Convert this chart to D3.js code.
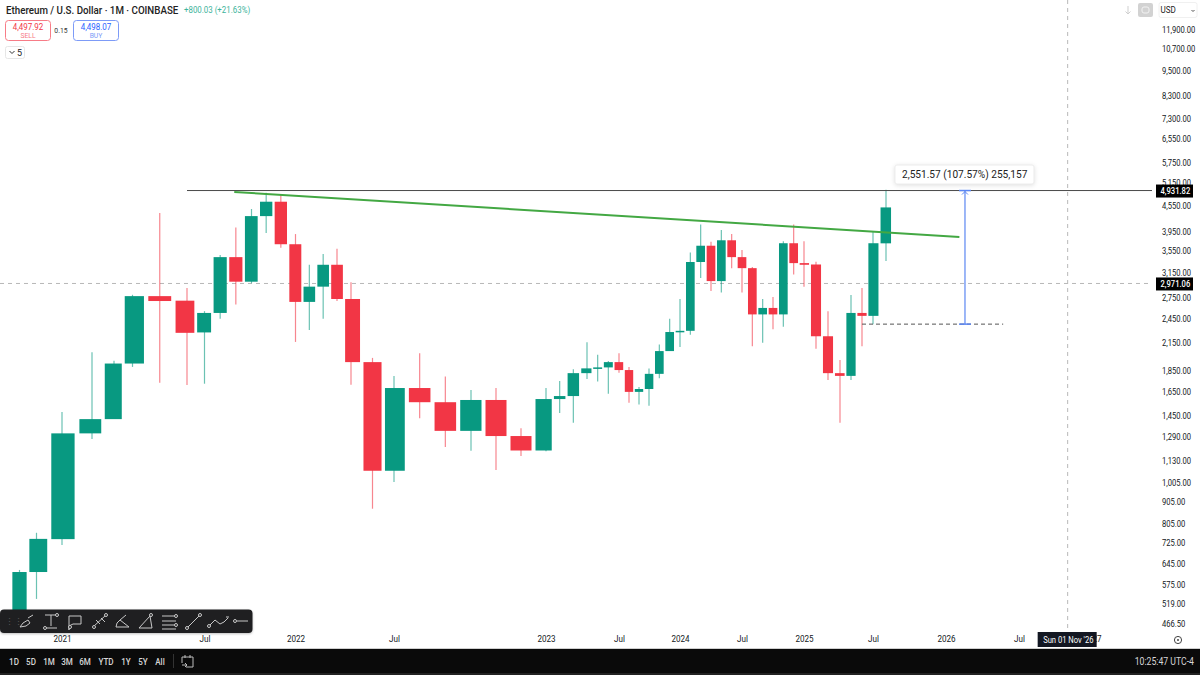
<!DOCTYPE html>
<html>
<head>
<meta charset="utf-8">
<script src="https://cdn.jsdelivr.net/npm/d3@7"></script>
<style>
  html, body { margin: 0; background: #fff; }
  svg { display: block; }
  text { font-family: Roboto, sans-serif; }
</style>
</head>
<body>
<svg id="chart" width="1200" height="675"></svg>
<script>
// months counted from Jan 2020 = 0, first candle is Nov 2020
const firstMonth = 10;
const opens = [386, 616, 737, 1312, 1418, 1920, 2773, 2705, 2275, 2530, 3430, 3000, 4290, 4640, 3680, 2687, 2920, 3290, 2730, 1935, 1070, 1680, 1555, 1330, 1574, 1293, 1195, 1582, 1608, 1822, 1870, 1880, 1935, 1853, 1645, 1671, 1815, 2055, 2282, 2295, 3340, 3650, 3010, 3760, 3430, 3230, 2510, 2600, 2510, 3700, 3320, 3295, 2228, 1822, 1795, 2530, 2490, 3698];
const highs = [623, 763, 1475, 2042, 1949, 2793, 4362, 2900, 2555, 3470, 4030, 4460, 4870, 4820, 3890, 3290, 3490, 3590, 2990, 1980, 1795, 2030, 1790, 1662, 1680, 1350, 1680, 1745, 1860, 2155, 2015, 1947, 2030, 1885, 1690, 1870, 2130, 2450, 2730, 3520, 4100, 3730, 3975, 3890, 3565, 3250, 2730, 2760, 3740, 4100, 3740, 3345, 2555, 1957, 2790, 2900, 3935, 4956];
const lows = [374, 532, 714, 1272, 1418, 1885, 1728, 1708, 1720, 2450, 2650, 2975, 3910, 3610, 2160, 2305, 2450, 2700, 1710, 870, 1007, 1425, 1218, 1193, 1075, 1160, 1190, 1466, 1390, 1765, 1740, 1628, 1825, 1550, 1535, 1525, 1772, 2055, 2100, 2245, 3060, 2850, 2830, 3230, 2830, 2110, 2150, 2315, 2345, 3120, 2920, 2080, 1755, 1390, 1755, 2110, 2380, 3360];
const closes = [616, 738, 1312, 1418, 1920, 2773, 2700, 2270, 2530, 3430, 3000, 4290, 4640, 3680, 2687, 2920, 3290, 2730, 1935, 1070, 1680, 1555, 1330, 1574, 1293, 1195, 1582, 1608, 1822, 1870, 1880, 1935, 1853, 1645, 1671, 1815, 2055, 2280, 2295, 3340, 3650, 3010, 3760, 3430, 3230, 2510, 2600, 2510, 3700, 3320, 3290, 2228, 1822, 1795, 2530, 2490, 3700, 4498];

const priceTicks = [11900, 10700, 9500, 8300, 7300, 6550, 5750, 5150, 4550, 3950, 3550, 3150, 2750, 2450, 2150, 1850, 1650, 1450, 1290, 1130, 1005, 905, 805, 725, 645, 575, 519, 466.5];
const tickMonths = [12, 18, 24, 30, 36, 42, 48, 54, 60, 66, 72, 78, 84];
const tickLabels = ['2021', 'Jul', '2022', 'Jul', '2023', 'Jul', '2024', 'Jul', '2025', 'Jul', '2026', 'Jul', '2027'];
const rangeButtons = ['1D', '5D', '1M', '3M', '6M', 'YTD', '1Y', '5Y', 'All'];

// drawn levels
const athPrice = 4931.82;
const crossPrice = 2971.06;
const crossMonth = 82;
const basePrice = 2380.25;
const trendMonths = [19.9, 73.1];
const trendPrices = [4895, 3830];

// the screenshot's time axis is not even, so the scale has knots
const timeKnots = [10, 11, 12, 13, 14, 15, 17, 18, 21, 24, 27, 28, 30, 33, 36, 39, 42, 45, 48, 51, 54, 57, 60, 63, 66, 67, 72, 78, 84];
const timePixels = [19.5, 36.5, 62, 92, 114, 132.5, 187, 204.5, 251.5, 295.5, 337, 351, 394, 471, 546, 587, 619, 649, 680, 711, 742, 773, 804, 840, 873, 886, 946, 1019, 1092];

const green = '#089981', red = '#f23645', dark = '#131722';

const candles = closes.map((c, i) => ({
  month: firstMonth + i, open: opens[i], high: highs[i], low: lows[i], close: c
}));

const x = d3.scaleLinear().domain(timeKnots).range(timePixels);
const y = d3.scaleLog().domain([466.5, 11900]).range([623, 29]);

// the original font is narrower than Roboto, squeeze text around its x
function condense(sel, factor) {
  sel.each(function () {
    const t = d3.select(this);
    const x0 = +t.attr('x') || 0;
    t.attr('transform', `translate(${x0},0) scale(${factor},1) translate(${-x0},0)`);
  });
}

const svg = d3.select('#chart');
svg.append('defs').append('clipPath').attr('id', 'pane')
  .append('rect').attr('width', 1152).attr('height', 632);

const pane = svg.append('g').attr('clip-path', 'url(#pane)');

// crosshair
pane.append('line').attr('x1', 0).attr('x2', 1152)
  .attr('y1', y(crossPrice)).attr('y2', y(crossPrice))
  .attr('stroke', '#b8b8b8').attr('stroke-dasharray', '4 4');
pane.append('line').attr('x1', x(crossMonth)).attr('x2', x(crossMonth))
  .attr('y1', 0).attr('y2', 632)
  .attr('stroke', '#b8b8b8').attr('stroke-dasharray', '4 4');

// candles
pane.selectAll('.wick').data(candles).enter().append('line')
  .attr('class', 'wick')
  .attr('x1', d => x(d.month)).attr('x2', d => x(d.month))
  .attr('y1', d => y(d.high)).attr('y2', d => y(d.low))
  .attr('stroke', d => d.close >= d.open ? green : red)
  .attr('stroke-opacity', 0.6)
  .attr('stroke-width', 1.2);

pane.selectAll('.body').data(candles).enter().append('rect')
  .attr('class', 'body')
  .attr('x', d => x(d.month - 0.42))
  .attr('width', d => x(d.month + 0.42) - x(d.month - 0.42))
  .attr('y', d => y(Math.max(d.open, d.close)))
  .attr('height', d => Math.max(1.5, y(Math.min(d.open, d.close)) - y(Math.max(d.open, d.close))))
  .attr('fill', d => d.close >= d.open ? green : red);

// high line, trend line, base line
pane.append('line').attr('x1', x(17)).attr('x2', 1152)
  .attr('y1', y(athPrice)).attr('y2', y(athPrice))
  .attr('stroke', '#4a4a4a').attr('stroke-width', 1);

pane.append('line')
  .attr('x1', x(trendMonths[0])).attr('x2', x(trendMonths[1]))
  .attr('y1', y(trendPrices[0])).attr('y2', y(trendPrices[1]))
  .attr('stroke', '#43a843').attr('stroke-width', 2);

pane.append('line').attr('x1', x(65)).attr('x2', x(76.7))
  .attr('y1', y(basePrice)).attr('y2', y(basePrice))
  .attr('stroke', '#555').attr('stroke-dasharray', '4 3');

// price range measure
const mx = x(73.56);
const measure = svg.append('g').attr('stroke', '#5b86f2').attr('fill', 'none');
measure.append('line').attr('x1', mx).attr('x2', mx).attr('y1', y(athPrice)).attr('y2', y(basePrice)).attr('stroke-width', 1.2);
measure.append('line').attr('x1', mx - 6).attr('x2', mx + 6).attr('y1', y(athPrice)).attr('y2', y(athPrice)).attr('stroke-width', 1.5);
measure.append('line').attr('x1', mx - 6).attr('x2', mx + 6).attr('y1', y(basePrice)).attr('y2', y(basePrice)).attr('stroke-width', 1.5);
measure.append('path').attr('d', `M${mx - 3},${y(athPrice) + 4}L${mx},${y(athPrice) + 1}L${mx + 3},${y(athPrice) + 4}`);

svg.append('rect').attr('x', mx - 70).attr('y', 165).attr('width', 139).attr('height', 19).attr('rx', 2)
  .attr('fill', '#fff').attr('stroke', '#ececec')
  .style('filter', 'drop-shadow(0 1px 2px rgba(0,0,0,.12))');
svg.append('text').attr('x', mx - 63).attr('y', 178).attr('font-size', 11.5).attr('fill', '#222')
  .text('2,551.57 (107.57%) 255,157').call(condense, 0.88);

// axes
const yAxis = svg.append('g').attr('transform', 'translate(1156,0)')
  .call(d3.axisRight(y).tickValues(priceTicks).tickFormat(d3.format(',.2f')).tickSize(0).tickPadding(6));
yAxis.select('.domain').remove();
yAxis.selectAll('text').attr('font-size', 9.5).attr('fill', dark)
  .style('font-family', 'Roboto').call(condense, 0.8);

const xAxis = svg.append('g').attr('transform', 'translate(0,633)')
  .call(d3.axisBottom(x).tickValues(tickMonths).tickFormat((d, i) => tickLabels[i]).tickSize(0).tickPadding(2));
xAxis.select('.domain').remove();
xAxis.selectAll('text').attr('font-size', 9.5).attr('fill', dark)
  .style('font-family', 'Roboto').call(condense, 0.85);

// price and date tags
[athPrice, crossPrice].forEach(p => {
  svg.append('rect').attr('x', 1156).attr('y', y(p) - 6).attr('width', 37).attr('height', 13).attr('fill', '#000');
  svg.append('text').attr('x', 1160.5).attr('y', y(p) + 3.5).attr('font-size', 9.5).attr('font-weight', 500).attr('fill', '#fff')
    .text(d3.format(',.2f')(p)).call(condense, 0.8);
});
svg.append('rect').attr('x', x(crossMonth) - 30).attr('y', 632).attr('width', 59).attr('height', 15).attr('fill', dark);
svg.append('text').attr('x', x(crossMonth) - 24.5).attr('y', 643)
  .attr('font-size', 9.5).attr('fill', '#fff').text("Sun 01 Nov '26").call(condense, 0.8);
svg.append('circle').attr('cx', 1178).attr('cy', 640).attr('r', 3.6).attr('fill', 'none').attr('stroke', '#444');
svg.append('circle').attr('cx', 1178).attr('cy', 640).attr('r', 1).attr('fill', '#444');

// header
svg.append('text').attr('x', 6).attr('y', 14).attr('font-size', 10.5).attr('font-weight', 500).attr('fill', '#222')
  .text('Ethereum / U.S. Dollar · 1M · COINBASE').call(condense, 0.93);
svg.append('text').attr('x', 184).attr('y', 13.5).attr('font-size', 8.5).attr('fill', '#3cb39b')
  .text('+800.03 (+21.63%)').call(condense, 0.93);

function orderBox(bx, color, light, price, side) {
  svg.append('rect').attr('x', bx + 0.5).attr('y', 20.5).attr('width', 45).attr('height', 20).attr('rx', 3)
    .attr('fill', '#fff').attr('stroke', light);
  svg.append('text').attr('x', bx + 23).attr('y', 30).attr('text-anchor', 'middle')
    .attr('font-size', 9.5).attr('fill', color).text(price).call(condense, 0.84);
  svg.append('text').attr('x', bx + 23).attr('y', 38.5).attr('text-anchor', 'middle')
    .attr('font-size', 8).attr('fill', light).text(side).call(condense, 0.85);
}
orderBox(5, '#f23645', '#f77c87', '4,497.92', 'SELL');
orderBox(73, '#2962ff', '#7d9bf7', '4,498.07', 'BUY');
svg.append('text').attr('x', 61).attr('y', 33).attr('text-anchor', 'middle').attr('font-size', 8).attr('fill', '#333').text('0.15').call(condense, 0.85);

svg.append('rect').attr('x', 5.5).attr('y', 46.5).attr('width', 19).attr('height', 12).attr('rx', 2)
  .attr('fill', '#fff').attr('stroke', '#e6e6e6');
svg.append('path').attr('d', 'M9.5,51l2.5,2.5l2.5,-2.5').attr('fill', 'none').attr('stroke', '#333');
svg.append('text').attr('x', 17).attr('y', 55.5).attr('font-size', 9).attr('fill', '#222').text('5');

// top right buttons
svg.append('path').attr('d', 'M1128,6v8M1125.5,11.5l2.5,2.5l2.5,-2.5').attr('fill', 'none').attr('stroke', '#cfcfcf');
svg.append('rect').attr('x', 1138).attr('y', 3).attr('width', 15).attr('height', 14).attr('rx', 2).attr('fill', '#d2d2d2');
svg.append('rect').attr('x', 1142).attr('y', 7).attr('width', 7).attr('height', 6).attr('rx', 2).attr('fill', 'none').attr('stroke', '#f2f2f2');
svg.append('rect').attr('x', 1159).attr('y', 2.5).attr('width', 38).attr('height', 15).attr('rx', 2).attr('fill', '#fff').attr('stroke', '#f0f0f0');
svg.append('text').attr('x', 1160.5).attr('y', 13.5).attr('font-size', 9.5).attr('fill', '#222').text('USD').call(condense, 0.85);
svg.append('path').attr('d', 'M1191.5,10l1.5,1.5l1.5,-1.5').attr('fill', 'none').attr('stroke', '#555');

// drawing toolbar
const bar = svg.append('g');
bar.append('rect').attr('x', 0).attr('y', 609.5).attr('width', 252.5).attr('height', 23.5).attr('rx', 4)
  .attr('fill', '#1f1f21').style('filter', 'drop-shadow(0 1px 1px rgba(0,0,0,.25))');
const toolIcons = [
  'M20,627l3,-4l5,-3l2,3l-4,3l-6,1M28,618l5,-3',
  'M45,615h12M51,615v11M45,628h12',
  'M69,616h12v8h-8l-4,2v4z',
  'M93,627l13,-12M96,620l4,4M101,618l4,4',
  'M116,627h13l-9,-7l-3,3zM120,620l6,-5',
  'M139,628h13l-2,-12l-11,12',
  'M162,616h14M162,621h14M162,625h14M162,629h14',
  'M188,627l11,-11',
  'M210,625l5,-5l5,4l4,-2l4,-4M226,617l3,0',
  'M237,621h11'
];
bar.selectAll('.tool').data(toolIcons).enter().append('path')
  .attr('class', 'tool').attr('d', d => d)
  .attr('fill', 'none').attr('stroke', '#c8c8c8').attr('stroke-width', 1);
const toolHandles = [[45, 628], [57, 615], [70, 627], [94, 627], [106, 615], [151, 615], [176, 616], [176, 625], [187, 628], [200, 615], [209, 626], [235, 621]];
bar.selectAll('.handle').data(toolHandles).enter().append('circle')
  .attr('class', 'handle').attr('cx', d => d[0]).attr('cy', d => d[1]).attr('r', 1.5)
  .attr('fill', '#1f1f21').attr('stroke', '#c8c8c8');
bar.append('text').attr('x', 5).attr('y', 625).attr('font-size', 9).attr('fill', '#555').text('⋮⋮');

// bottom bar
svg.append('rect').attr('y', 648).attr('width', 1200).attr('height', 1).attr('fill', '#cfcfcf');
svg.append('rect').attr('y', 649).attr('width', 1200).attr('height', 24).attr('fill', '#0a0a0a');
svg.append('rect').attr('y', 673).attr('width', 1200).attr('height', 2).attr('fill', '#222');

const buttonX = d3.scaleOrdinal().domain(rangeButtons).range([14, 31, 49, 67, 85, 106, 126, 143, 160]);
svg.selectAll('.range').data(rangeButtons).enter().append('text')
  .attr('class', 'range')
  .attr('x', d => buttonX(d)).attr('y', 665)
  .attr('text-anchor', 'middle').attr('font-size', 9.5).attr('font-weight', 500).attr('fill', '#d6d6d6')
  .text(d => d).call(condense, 0.85);
svg.append('rect').attr('x', 173).attr('y', 654).attr('width', 1).attr('height', 14).attr('fill', '#333');
svg.append('path').attr('d', 'M182,657h11v10h-7M182,657v6M185,655v3M190,655v3M182,665h5M185,663l2,2l-2,2')
  .attr('fill', 'none').attr('stroke', '#bbb');
svg.append('text').attr('x', 1194).attr('y', 665).attr('text-anchor', 'end')
  .attr('font-size', 10).attr('fill', '#d6d6d6').text('10:25:47 UTC-4').call(condense, 0.87);
</script>
</body>
</html>
